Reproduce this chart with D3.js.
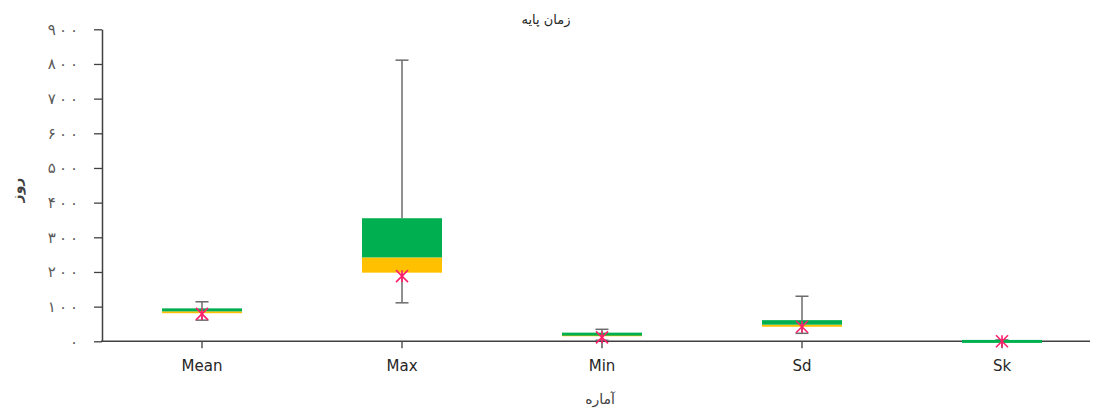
<!DOCTYPE html>
<html>
<head>
<meta charset="utf-8">
<script src="https://cdn.jsdelivr.net/npm/d3@7"></script>
<style>
  html, body { margin: 0; padding: 0; background: #fff; }
  svg { display: block; }
  text { font-family: "DejaVu Sans", "Liberation Sans", sans-serif; }
</style>
</head>
<body>
<svg id="chart" width="1098" height="413"></svg>
<script>
// Summary statistics (days) per measure
const categories = ["Mean", "Max", "Min", "Sd", "Sk"];
const whiskerMin = [61, 111, 3, 23, 0];
const q1Values   = [81, 198, 16, 42, 1];
const medians    = [86.5, 242, 19, 48, 2];
const q3Values   = [95, 355, 25, 61, 4];
const whiskerMax = [114, 811, 34.6, 130, 4];
const meanValues = [79, 188, 11.5, 42, 0];
const yTicks = [0, 100, 200, 300, 400, 500, 600, 700, 800, 900];

const title = "زمان پایه";
const yTitle = "روز";
const xTitle = "آماره";

const svg = d3.select("#chart");

const x = d3.scaleBand().domain(categories).range([102, 1102]).paddingInner(0.6).paddingOuter(0.3);
const y = d3.scaleLinear().domain([0, 900]).range([341.3, 29.3]);
const cx = c => x(c) + x.bandwidth() / 2;

const faDigits = n => String(n).replace(/\d/g, d => "۰۱۲۳۴۵۶۷۸۹"[d]).split("").join("\u2009");

// Y axis
const yAxis = svg.append("g").attr("transform", "translate(102,0)")
  .call(d3.axisLeft(y).tickValues(yTicks).tickSize(8).tickSizeOuter(0).tickFormat(faDigits));
yAxis.select(".domain").attr("stroke", "#404040").attr("stroke-width", 1.5);
yAxis.selectAll(".tick line").attr("stroke", "#404040").attr("stroke-width", 1.3);
yAxis.selectAll(".tick text").attr("x", -24).attr("fill", "#595959")
  .style("font-size", "15px");

// X axis
const xAxis = svg.append("g").attr("transform", "translate(0,341.3)")
  .call(d3.axisBottom(x).tickSize(7).tickSizeOuter(0));
xAxis.select(".domain").remove();
xAxis.selectAll(".tick line").attr("stroke", "#404040").attr("stroke-width", 1.3);
xAxis.selectAll(".tick text").attr("y", 19).attr("fill", "#262626").style("font-size", "15px");
svg.append("line").attr("x1", 101).attr("x2", 1090).attr("y1", 341.3).attr("y2", 341.3)
  .attr("stroke", "#404040").attr("stroke-width", 1.5);

const data = categories.map((c, i) => ({
  c, lo: whiskerMin[i], q1: q1Values[i], med: medians[i], q3: q3Values[i], hi: whiskerMax[i], mean: meanValues[i]
}));

const g = svg.append("g");

// Whiskers (drawn first so boxes cover the inner segment)
const capW = 13;
data.forEach(d => {
  const xc = cx(d.c);
  const wg = g.append("g").attr("stroke", "#6b6b6b").attr("stroke-width", 1.5);
  wg.append("line").attr("x1", xc).attr("x2", xc).attr("y1", y(d.q3)).attr("y2", y(d.hi));
  wg.append("line").attr("x1", xc - capW / 2).attr("x2", xc + capW / 2).attr("y1", y(d.hi)).attr("y2", y(d.hi));
  wg.append("line").attr("x1", xc).attr("x2", xc).attr("y1", y(d.q1)).attr("y2", y(d.lo));
  wg.append("line").attr("x1", xc - capW / 2).attr("x2", xc + capW / 2).attr("y1", y(d.lo)).attr("y2", y(d.lo));
});

// Lower box segment (Q1 to median) and upper segment (median to Q3)
g.selectAll("rect.lower").data(data).join("rect").attr("class", "lower")
  .attr("x", d => x(d.c)).attr("width", x.bandwidth())
  .attr("y", d => y(d.med)).attr("height", d => Math.max(1.5, y(d.q1) - y(d.med)))
  .attr("fill", "#FFC000");
g.selectAll("rect.upper").data(data).join("rect").attr("class", "upper")
  .attr("x", d => x(d.c)).attr("width", x.bandwidth())
  .attr("y", d => y(d.q3)).attr("height", d => Math.max(3, y(d.med) - y(d.q3)))
  .attr("fill", "#00B050");

// Mean markers (asterisk)
data.forEach(d => {
  const xc = cx(d.c), yc = y(d.mean), r = 6;
  const mg = g.append("g").attr("stroke", "#FF1F6B").attr("stroke-width", 1.6);
  [[-r, -r, r, r], [-r, r, r, -r], [0, -r, 0, r]].forEach(s => {
    mg.append("line").attr("x1", xc + s[0]).attr("y1", yc + s[1]).attr("x2", xc + s[2]).attr("y2", yc + s[3]);
  });
});

// Titles
svg.append("text").attr("x", 546).attr("y", 24).attr("text-anchor", "middle")
  .attr("fill", "#262626").style("font-size", "13px").attr("direction", "rtl").text(title);
svg.append("text").attr("transform", "translate(22,190) rotate(-90)").attr("text-anchor", "middle")
  .attr("fill", "#404040").style("font-size", "14px").style("font-weight", "bold").attr("direction", "rtl").text(yTitle);
svg.append("text").attr("x", 600).attr("y", 404).attr("text-anchor", "middle")
  .attr("fill", "#404040").style("font-size", "14px").attr("direction", "rtl").text(xTitle);
</script>
</body>
</html>
